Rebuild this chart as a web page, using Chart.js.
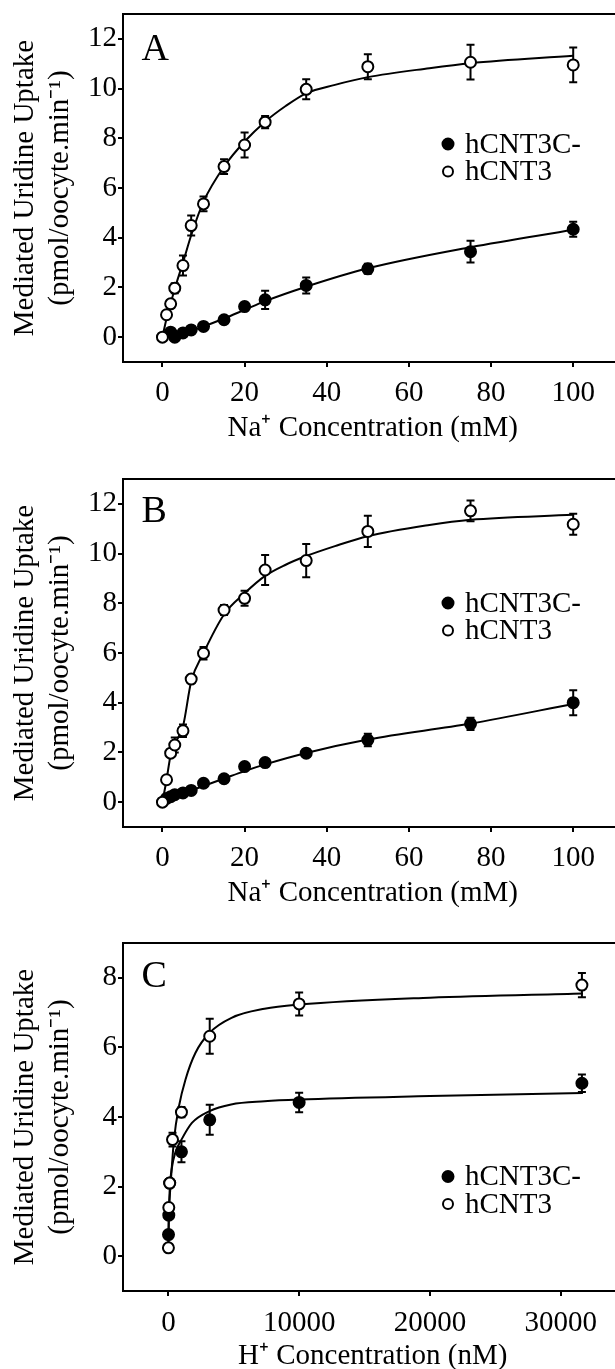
<!DOCTYPE html>
<html>
<head>
<meta charset="utf-8">
<script src="https://cdn.jsdelivr.net/npm/chart.js@4.4.0/dist/chart.umd.min.js"></script>
<style>
    html, body { margin: 0; padding: 0; background: #fff; width: 615px; height: 1369px; overflow: hidden; position: relative; }
    .panel { position: absolute; left: 0; }
    canvas { display: block; }
</style>
</head>
<body>
<div class="panel" style="top:0px"><canvas id="chartA" width="630" height="465"></canvas></div>
<div class="panel" style="top:465px"><canvas id="chartB" width="630" height="465"></canvas></div>
<div class="panel" style="top:930px"><canvas id="chartC" width="630" height="460"></canvas></div>
<script>
// ---- textos ----
const seriesNames = ['hCNT3C-', 'hCNT3'];
const panelLetters = ['A', 'B', 'C'];
const yTitle = ['Mediated Uridine Uptake', '(pmol/oocyte.min⁻¹)'];
const naTitle = 'Na⁺ Concentration (mM)';
const hTitle = 'H⁺ Concentration (nM)';

// ---- ticks ----
const naTicks = [0, 20, 40, 60, 80, 100];
const naUptakeTicks = [0, 2, 4, 6, 8, 10, 12];
const hTicks = [0, 10000, 20000, 30000];
const hUptakeTicks = [0, 2, 4, 6, 8];

// ---- panel A (Na+) ----
const naA_open = [0, 1, 2, 3, 5, 7, 10, 15, 20, 25, 35, 50, 75, 100];
const uptakeA_open = [0, 0.9, 1.34, 1.97, 2.88, 4.49, 5.36, 6.86, 7.73, 8.65, 9.97, 10.88, 11.06, 10.95];
const errA_open = [0, 0.1, 0.15, 0.2, 0.4, 0.4, 0.3, 0.3, 0.5, 0.25, 0.4, 0.5, 0.7, 0.7];
const naA_filled = [2, 3, 5, 7, 10, 15, 20, 25, 35, 50, 75, 100];
const uptakeA_filled = [0.2, 0.0, 0.17, 0.29, 0.43, 0.7, 1.23, 1.5, 2.08, 2.75, 3.44, 4.34];
const errA_filled = [0.05, 0.05, 0.05, 0.05, 0.1, 0.15, 0.15, 0.37, 0.32, 0.2, 0.44, 0.3];
const fitA_open_x = [0, 1, 2, 3, 5, 7, 10, 15, 20, 25, 30, 35, 42, 50, 65, 75, 100];
const fitA_open_y = [0, 0.75, 1.35, 1.95, 3.0, 4.1, 5.45, 6.86, 7.87, 8.67, 9.3, 9.81, 10.15, 10.46, 10.82, 11.02, 11.32];
const fitA_filled_x = [0, 5, 10, 15, 20, 25, 35, 50, 75, 100];
const fitA_filled_y = [0, 0.15, 0.43, 0.75, 1.1, 1.45, 2.03, 2.77, 3.62, 4.32];

// ---- panel B (Na+) ----
const naB_open = [0, 1, 2, 3, 5, 7, 10, 15, 20, 25, 35, 50, 75, 100];
const uptakeB_open = [0, 0.9, 1.97, 2.3, 2.87, 4.95, 5.99, 7.73, 8.2, 9.34, 9.72, 10.89, 11.72, 11.18];
const errB_open = [0, 0.05, 0.1, 0.3, 0.25, 0.1, 0.25, 0.2, 0.3, 0.6, 0.67, 0.63, 0.42, 0.42];
const naB_filled = [1, 2, 3, 5, 7, 10, 15, 20, 25, 35, 50, 75, 100];
const uptakeB_filled = [0.15, 0.22, 0.3, 0.37, 0.47, 0.76, 0.94, 1.43, 1.59, 1.97, 2.5, 3.15, 4.0];
const errB_filled = [0.05, 0.05, 0.05, 0.05, 0.05, 0.1, 0.1, 0.1, 0.1, 0.15, 0.25, 0.25, 0.5];
const fitB_open_x = [0, 1, 2, 3, 5, 7, 10, 15, 20, 25, 30, 35, 42, 50, 65, 75, 100];
const fitB_open_y = [0, 0.9, 1.9, 2.35, 3.05, 4.85, 6.0, 7.55, 8.4, 9.1, 9.55, 9.9, 10.3, 10.7, 11.15, 11.36, 11.56];
const fitB_filled_x = [0, 2, 5, 10, 15, 20, 25, 35, 50, 75, 100];
const fitB_filled_y = [0, 0.15, 0.35, 0.65, 0.95, 1.25, 1.52, 1.98, 2.52, 3.16, 3.95];

// ---- panel C (H+) ----
const hC_open = [3.16, 31.6, 100, 316, 1000, 3162, 10000, 31623];
const uptakeC_open = [0.24, 1.4, 2.1, 3.35, 4.14, 6.32, 7.25, 7.79];
const errC_open = [0.05, 0.1, 0.1, 0.2, 0.15, 0.5, 0.33, 0.35];
const hC_filled = [10, 31.6, 100, 1000, 3162, 10000, 31623];
const uptakeC_filled = [0.62, 1.18, 2.1, 3.0, 3.92, 4.42, 4.97];
const errC_filled = [0.05, 0.1, 0.1, 0.3, 0.43, 0.28, 0.25];
const fitC_open_x = [0, 30, 55, 180, 430, 810, 1310, 2065, 3150, 4830, 7350, 10000, 20000, 31700];
const fitC_open_y = [0.2, 1.0, 1.34, 2.11, 3.35, 4.31, 5.08, 5.84, 6.42, 6.85, 7.11, 7.23, 7.43, 7.55];
const fitC_filled_x = [0, 30, 100, 250, 550, 1000, 1800, 3150, 4800, 7350, 10000, 20000, 31700];
const fitC_filled_y = [0.3, 1.1, 1.9, 2.5, 3.0, 3.35, 3.83, 4.17, 4.36, 4.45, 4.5, 4.6, 4.69];

const FONT = "'Liberation Serif', 'Times New Roman', serif";
Chart.defaults.font.family = FONT;
Chart.defaults.color = '#000';

function pts(xs, ys) {
    return xs.map((x, i) => ({ x: x, y: ys[i] }));
}

// barras de error, marco, letra y leyenda
const decor = {
    id: 'decor',
    beforeDatasetsDraw(chart) {
        const { ctx, scales: { x, y } } = chart;
        ctx.save();
        ctx.strokeStyle = '#000';
        ctx.lineWidth = 2;
        chart.data.datasets.forEach(ds => {
            if (!ds.errors) return;
            ds.data.forEach((p, i) => {
                const e = ds.errors[i];
                if (!e) return;
                const px = x.getPixelForValue(p.x);
                const top = y.getPixelForValue(p.y + e);
                const bot = y.getPixelForValue(p.y - e);
                ctx.beginPath();
                ctx.moveTo(px, top); ctx.lineTo(px, bot);
                ctx.moveTo(px - 4, top); ctx.lineTo(px + 4, top);
                ctx.moveTo(px - 4, bot); ctx.lineTo(px + 4, bot);
                ctx.stroke();
            });
        });
        ctx.restore();
    },
    afterDraw(chart, args, opts) {
        const { ctx, chartArea: a } = chart;
        ctx.save();
        ctx.strokeStyle = '#000';
        ctx.lineWidth = 2;
        ctx.strokeRect(a.left, a.top, a.right - a.left, a.bottom - a.top);

        ctx.fillStyle = '#000';
        ctx.font = '38px ' + FONT;
        ctx.textBaseline = 'alphabetic';
        ctx.textAlign = 'left';
        ctx.fillText(opts.letter, a.left + 18.5, a.top + opts.letterY);

        ctx.font = '29px ' + FONT;
        ctx.textBaseline = 'middle';
        seriesNames.forEach((name, i) => {
            const cx = a.left + opts.legendX;
            const cy = a.top + opts.legendY + i * 27.5;
            ctx.beginPath();
            ctx.arc(cx, cy, i === 0 ? 5.5 : 5, 0, Math.PI * 2);
            ctx.fillStyle = i === 0 ? '#000' : '#fff';
            ctx.fill();
            ctx.lineWidth = 2;
            ctx.stroke();
            ctx.fillStyle = '#000';
            ctx.fillText(name, cx + 17, cy + 1);
        });
        ctx.restore();
    }
};

function makePanel(id, p) {
    const pointBase = { pointRadius: 5.5, pointHoverRadius: 5.5, pointBorderWidth: 2, pointBorderColor: '#000', showLine: false };
    const fitBase = { showLine: true, pointRadius: 0, borderColor: '#000', borderWidth: 2, cubicInterpolationMode: 'monotone', fill: false };

    return new Chart(document.getElementById(id), {
        type: 'scatter',
        data: {
            datasets: [
                Object.assign({ label: seriesNames[1], data: pts(p.openX, p.openY), errors: p.openErr, pointBackgroundColor: '#fff' }, pointBase),
                Object.assign({ label: seriesNames[0], data: pts(p.filledX, p.filledY), errors: p.filledErr, pointBackgroundColor: '#000' }, pointBase),
                Object.assign({ label: 'fit ' + seriesNames[1], data: pts(p.fitOpenX, p.fitOpenY) }, fitBase),
                Object.assign({ label: 'fit ' + seriesNames[0], data: pts(p.fitFilledX, p.fitFilledY) }, fitBase)
            ]
        },
        options: {
            responsive: false,
            animation: false,
            layout: { padding: { top: p.top, right: 1, left: 0, bottom: 0 } },
            plugins: {
                legend: { display: false },
                tooltip: { enabled: false },
                decor: { letter: p.letter, letterY: p.letterY, legendX: 325, legendY: p.legendY }
            },
            scales: {
                x: {
                    type: 'linear',
                    min: p.xMin,
                    max: p.xMax,
                    border: { display: false },
                    grid: { drawOnChartArea: false, drawTicks: true, tickLength: 5, lineWidth: 2, color: '#000' },
                    ticks: { font: { size: 29 }, padding: p.xTickPad, maxRotation: 0, color: '#000', callback: v => String(v) },
                    title: { display: true, text: p.xTitle, font: { size: 29 }, padding: { top: 0, bottom: p.xTitlePad }, color: '#000' },
                    afterBuildTicks: s => { s.ticks = p.xTicks.map(v => ({ value: v })); },
                    afterFit: s => { s.height = p.xHeight; s.paddingLeft = 0; s.paddingRight = 0; }
                },
                y: {
                    type: 'linear',
                    min: p.yMin,
                    max: p.yMax,
                    border: { display: false },
                    grid: { drawOnChartArea: false, drawTicks: true, tickLength: 5, lineWidth: 2, color: '#000' },
                    ticks: { font: { size: 29 }, padding: 1, color: '#000', callback: v => String(v) },
                    title: { display: true, text: yTitle, font: { size: 29, lineHeight: 1.2 }, padding: { top: 8, bottom: 0 }, color: '#000' },
                    afterBuildTicks: s => { s.ticks = p.yTicks.map(v => ({ value: v })); },
                    afterFit: s => { s.width = 123; s.paddingTop = 0; s.paddingBottom = 0; }
                }
            }
        },
        plugins: [decor]
    });
}

makePanel('chartA', {
    letter: panelLetters[0], letterY: 46, legendY: 130, top: 14,
    openX: naA_open, openY: uptakeA_open, openErr: errA_open,
    filledX: naA_filled, filledY: uptakeA_filled, filledErr: errA_filled,
    fitOpenX: fitA_open_x, fitOpenY: fitA_open_y, fitFilledX: fitA_filled_x, fitFilledY: fitA_filled_y,
    xMin: -9.6, xMax: 112, xTicks: naTicks, xTitle: naTitle, xHeight: 103, xTickPad: 9, xTitlePad: 19,
    yMin: -1, yMax: 13, yTicks: naUptakeTicks
});

makePanel('chartB', {
    letter: panelLetters[1], letterY: 42.5, legendY: 124, top: 14,
    openX: naB_open, openY: uptakeB_open, openErr: errB_open,
    filledX: naB_filled, filledY: uptakeB_filled, filledErr: errB_filled,
    fitOpenX: fitB_open_x, fitOpenY: fitB_open_y, fitFilledX: fitB_filled_x, fitFilledY: fitB_filled_y,
    xMin: -9.6, xMax: 112, xTicks: naTicks, xTitle: naTitle, xHeight: 103, xTickPad: 9, xTitlePad: 19,
    yMin: -1, yMax: 13, yTicks: naUptakeTicks
});

makePanel('chartC', {
    letter: panelLetters[2], letterY: 44, legendY: 233.5, top: 13,
    openX: hC_open, openY: uptakeC_open, openErr: errC_open,
    filledX: hC_filled, filledY: uptakeC_filled, filledErr: errC_filled,
    fitOpenX: fitC_open_x, fitOpenY: fitC_open_y, fitFilledX: fitC_filled_x, fitFilledY: fitC_filled_y,
    xMin: -3470, xMax: 34727, xTicks: hTicks, xTitle: hTitle, xHeight: 99, xTickPad: 10, xTitlePad: 16,
    yMin: -1, yMax: 9, yTicks: hUptakeTicks
});
</script>
</body>
</html>
